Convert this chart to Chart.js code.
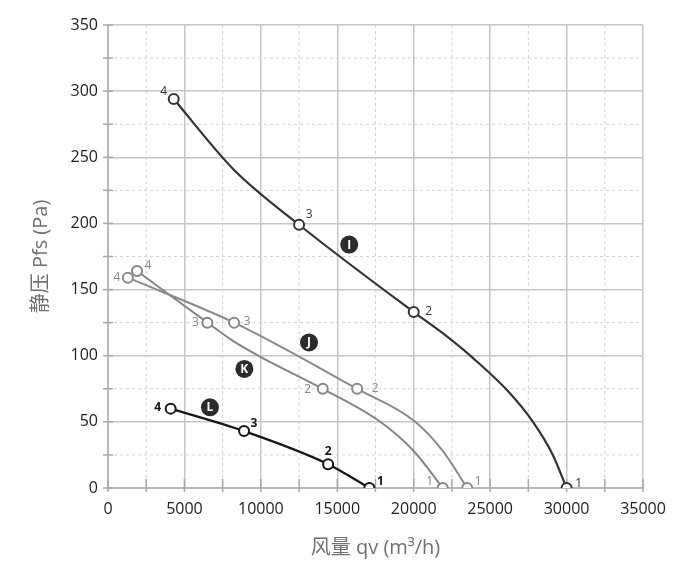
<!DOCTYPE html>
<html>
<head>
<meta charset="utf-8">
<script src="https://cdn.jsdelivr.net/npm/chart.js@4.4.0/dist/chart.umd.min.js"></script>
<style>
  html, body { margin: 0; padding: 0; background: #fff; }
  #wrap { width: 700px; height: 573px; }
</style>
</head>
<body>
<div id="wrap"><canvas id="fanChart"></canvas></div>
<script>
// curve I
const iFlow = [4300, 8200, 12500, 20000, 21900, 23900, 26100, 27800, 29100, 30000];
const iPress = [294, 241, 199, 133, 117, 98, 74, 50, 25, 0];
const iNum = ['4', '', '3', '2', '', '', '', '', '', '1'];
// curve J
const jFlow = [1300, 8250, 16300, 20000, 21900, 23500];
const jPress = [159, 125, 75, 51, 28, 0];
const jNum = ['4', '3', '2', '', '', '1'];
// curve K
const kFlow = [1900, 6500, 8200, 10000, 14050, 17700, 20000, 21900];
const kPress = [164, 125, 111, 99, 75, 51, 28, 0];
const kNum = ['4', '3', '', '', '2', '', '', '1'];
// curve L
const lFlow = [4100, 8900, 14400, 17100];
const lPress = [60, 43, 18, 0];
const lNum = ['4', '3', '2', '1'];

// badges on the curves
const badgeText = ['I', 'J', 'K', 'L'];
const badgeFlow = [15780, 13150, 8920, 6670];
const badgePress = [184, 110, 90, 61];

const xTitle = '风量 qv (m³/h)';
const yTitle = '静压 Pfs (Pa)';

// where the point numbers sit around each marker (px)
const numOffsets = {
    I: [[-10, -8], [10, -10], [15, 0], [12, -4]],
    J: [[-11, 0], [13, -1], [18, 0], [11, -6]],
    K: [[11, -5], [-12, 0], [-15, 1], [-13, -6]],
    L: [[-13, -1], [10, -8], [0, -13], [11, -6]]
};

function toPoints(xs, ys) {
    return xs.map((x, i) => ({ x: x, y: ys[i] }));
}

function makeSet(name, xs, ys, nums, color, width) {
    return {
        label: name,
        data: toPoints(xs, ys),
        nums: nums,
        borderColor: color,
        borderWidth: width,
        cubicInterpolationMode: 'monotone',
        pointRadius: nums.map(n => n ? 5 : 0),
        pointHoverRadius: nums.map(n => n ? 5 : 0),
        pointBackgroundColor: '#ffffff',
        pointBorderColor: color,
        pointBorderWidth: 2,
        numColor: color
    };
}

const minorGrid = {
    id: 'minorGrid',
    beforeDatasetsDraw(chart) {
        const ctx = chart.ctx;
        const area = chart.chartArea;
        const xs = chart.scales.x;
        const ys = chart.scales.y;
        ctx.save();
        ctx.strokeStyle = '#d2d2d2';
        ctx.lineWidth = 1;
        ctx.setLineDash([3, 3]);
        xs.ticks.forEach(t => {
            if (t.value % 5000 === 0) return;
            const px = xs.getPixelForValue(t.value);
            ctx.beginPath();
            ctx.moveTo(px, area.top);
            ctx.lineTo(px, area.bottom);
            ctx.stroke();
        });
        ys.ticks.forEach(t => {
            if (t.value % 50 === 0) return;
            const py = ys.getPixelForValue(t.value);
            ctx.beginPath();
            ctx.moveTo(area.left, py);
            ctx.lineTo(area.right, py);
            ctx.stroke();
        });
        // tick marks crossing the axes
        ctx.setLineDash([]);
        ctx.strokeStyle = '#a8a8a8';
        ctx.lineWidth = 1.5;
        xs.ticks.forEach(t => {
            const px = xs.getPixelForValue(t.value);
            ctx.beginPath();
            ctx.moveTo(px, area.bottom - 9);
            ctx.lineTo(px, area.bottom + 4);
            ctx.stroke();
        });
        ys.ticks.forEach(t => {
            const py = ys.getPixelForValue(t.value);
            ctx.beginPath();
            ctx.moveTo(area.left - 5, py);
            ctx.lineTo(area.left + 5, py);
            ctx.stroke();
        });
        ctx.restore();
    }
};

const curveLabels = {
    id: 'curveLabels',
    afterDatasetsDraw(chart) {
        const ctx = chart.ctx;
        const xs = chart.scales.x;
        const ys = chart.scales.y;
        ctx.save();
        ctx.textAlign = 'center';
        ctx.textBaseline = 'middle';
        chart.data.datasets.forEach((ds, di) => {
            const meta = chart.getDatasetMeta(di);
            const offs = numOffsets[ds.label];
            let k = 0;
            ctx.font = (ds.label === 'L' ? 'bold ' : '') + '12px "Open Sans"';
            ctx.fillStyle = ds.numColor;
            ds.nums.forEach((n, i) => {
                if (!n) return;
                const el = meta.data[i];
                const o = offs[k++];
                ctx.fillText(n, el.x + o[0], el.y + o[1]);
            });
        });
        badgeText.forEach((b, i) => {
            const px = xs.getPixelForValue(badgeFlow[i]);
            const py = ys.getPixelForValue(badgePress[i]);
            ctx.beginPath();
            ctx.arc(px, py, 9, 0, Math.PI * 2);
            ctx.fillStyle = '#2b2b2b';
            ctx.fill();
            ctx.fillStyle = '#ffffff';
            ctx.font = 'bold 12px "Open Sans"';
            ctx.fillText(b, px, py + 0.5);
        });
        ctx.restore();
    }
};

const ctx = document.getElementById('fanChart').getContext('2d');
const fanChart = new Chart(ctx, {
    type: 'line',
    data: {
        datasets: [
            makeSet('I', iFlow, iPress, iNum, '#333333', 2.2),
            makeSet('J', jFlow, jPress, jNum, '#8a8a8a', 2),
            makeSet('K', kFlow, kPress, kNum, '#858585', 2),
            makeSet('L', lFlow, lPress, lNum, '#151515', 2.2)
        ]
    },
    options: {
        responsive: true,
        maintainAspectRatio: false,
        animation: false,
        layout: { padding: { left: 28, right: 57, top: 25, bottom: 10 } },
        plugins: {
            legend: { display: false },
            tooltip: { enabled: false }
        },
        scales: {
            x: {
                type: 'linear',
                min: 0,
                max: 35000,
                afterFit: function(s) { s.height = 75; },
                ticks: {
                    stepSize: 2500,
                    autoSkip: false,
                    maxRotation: 0,
                    padding: 12,
                    color: '#1e1e1e',
                    font: { family: '"Open Sans"', size: 16 },
                    callback: function(v) { return v % 5000 === 0 ? String(v) : ''; }
                },
                grid: {
                    drawTicks: false,
                    color: function(c) { return c.tick && c.tick.value % 5000 === 0 ? '#c6c6c6' : 'rgba(0,0,0,0)'; },
                    lineWidth: 1.5
                },
                border: { color: '#b8b8b8', width: 2 },
                title: {
                    display: true,
                    text: xTitle,
                    color: '#707070',
                    font: { family: '"Open Sans", "Noto Sans CJK SC"', size: 20 },
                    padding: { top: 0, bottom: 3 }
                }
            },
            y: {
                min: 0,
                max: 350,
                afterFit: function(s) { s.width = 80; },
                ticks: {
                    stepSize: 25,
                    autoSkip: false,
                    padding: 10,
                    color: '#1e1e1e',
                    font: { family: '"Open Sans"', size: 16 },
                    callback: function(v) { return v % 50 === 0 ? String(v) : ''; }
                },
                grid: {
                    drawTicks: false,
                    color: function(c) { return c.tick && c.tick.value % 50 === 0 ? '#c6c6c6' : 'rgba(0,0,0,0)'; },
                    lineWidth: 1.5
                },
                border: { color: '#b8b8b8', width: 2 },
                title: {
                    display: true,
                    text: yTitle,
                    color: '#707070',
                    font: { family: '"Open Sans", "Noto Sans CJK SC"', size: 20 },
                    padding: { top: 1, bottom: 0 }
                }
            }
        }
    },
    plugins: [minorGrid, curveLabels]
});
</script>
</body>
</html>
